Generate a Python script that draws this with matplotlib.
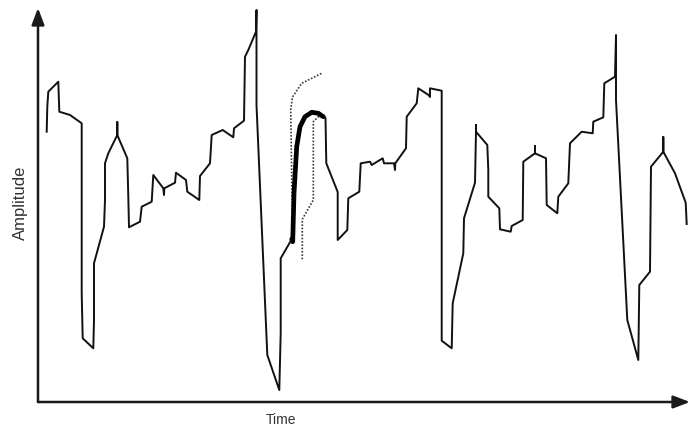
import matplotlib
matplotlib.use("Agg")
import matplotlib.pyplot as plt

# Observed signal up to the start of the forecast
obs1_time = [8.7, 9.3, 10.3, 20.3, 21.3, 32.0, 43.7, 43.7, 43.7, 44.7, 55.3, 56.0, 56.0,
             66.0, 67.0, 67.0, 70.3, 79.3, 79.3, 79.3, 89.3, 90.3, 91.0, 102.0, 103.7,
             113.7, 115.3, 125.3, 126.0, 126.3, 137.0, 138.0, 148.0, 149.3, 161.3, 162.0,
             172.0, 173.7, 184.7, 195.3, 196.0, 206.0, 207.0, 210.3, 218.0, 218.5, 218.5,
             229.3, 241.3, 242.7, 242.7, 253.7]
obs1_amp = [270.3, 295.3, 310.3, 320.3, 290.3, 287.0, 278.7, 202.0, 109.0, 63.7, 53.7, 82.0,
            138.7, 175.3, 202.0, 238.7, 248.7, 267.0, 280.0, 267.0, 243.7, 205.3, 174.7,
            180.3, 195.3, 200.3, 227.0, 213.7, 207.0, 213.7, 219.3, 229.3, 222.0, 210.3,
            202.0, 226.0, 238.7, 267.0, 272.0, 264.7, 273.7, 281.3, 345.3, 352.0, 370.3,
            392.0, 297.0, 47.0, 12.0, 69.0, 143.7, 162.7]

# Forecast and its bounds
fc_time = [253.7, 254.7, 256.0, 258.7, 262.0, 267.0, 273.7, 280.3, 285.3]
fc_amp = [162.7, 160.3, 208.7, 255.3, 275.3, 285.3, 289.7, 288.7, 285.3]

upper_time = [254.7, 253.7, 252.7, 254.5, 263.7, 283.7]
upper_amp = [162.0, 227.0, 292.0, 305.0, 318.7, 328.7]

lower_time = [264.3, 264.3, 275.3, 275.3, 280.3, 285.3]
lower_amp = [142.7, 182.7, 202.0, 280.3, 285.3, 285.3]

# Observed signal after the forecast
obs2_time = [285.3, 287.5, 288.3, 299.7, 299.7, 309.3, 310.3, 321.3, 322.7, 332.0, 333.7,
             344.7, 346.0, 356.0, 357.0, 357.3, 368.0, 368.7, 378.7, 380.3, 390.5, 392.0,
             392.0, 403.7, 403.7, 403.7, 403.7, 413.7, 414.7, 425.3, 426.0, 437.0, 438.0,
             438.0, 438.0, 449.3, 450.3, 450.3, 461.3, 462.0, 472.7, 473.7, 484.7, 485.3,
             497.0, 497.0, 497.0, 508.0, 508.7, 519.3, 520.3, 530.3, 532.0, 543.7, 554.7,
             555.3, 565.3, 566.3, 577.0, 578.0, 578.0, 589.3, 600.3, 601.3, 612.0, 613.0,
             625.3, 625.3, 625.3, 637.0, 647.7, 648.7]
obs2_amp = [285.3, 284.0, 238.7, 210.0, 162.0, 172.0, 203.7, 210.3, 238.7, 240.3, 237.0,
            243.7, 238.7, 238.7, 232.0, 238.7, 253.7, 285.3, 298.7, 313.7, 307.0, 305.0,
            313.7, 311.3, 242.0, 125.3, 61.3, 53.7, 98.7, 148.7, 183.7, 219.3, 270.3,
            277.0, 270.3, 257.0, 232.0, 205.3, 193.7, 172.7, 170.3, 176.0, 182.0, 240.3,
            248.7, 256.0, 248.7, 243.7, 197.0, 188.7, 205.3, 218.7, 258.7, 270.3, 268.7,
            280.3, 284.7, 318.7, 325.3, 367.0, 302.0, 82.0, 42.0, 117.0, 130.3, 235.3,
            250.3, 265.0, 250.3, 228.7, 199.3, 178.0]

fig = plt.figure(figsize=(6.91, 4.30), dpi=100)
ax = fig.add_axes([38 / 691, 28 / 430, 652 / 691, 394 / 430])
ax.set_xlim(0, 652)
ax.set_ylim(0, 394)

line_color = "#111111"
ax.plot(obs1_time, obs1_amp, color=line_color, lw=1.4, solid_joinstyle="round")
ax.plot(obs2_time, obs2_amp, color=line_color, lw=1.4, solid_joinstyle="round")
ax.plot(upper_time, upper_amp, color="#3a3a3a", lw=1.2, linestyle=(0, (1, 1)))
ax.plot(lower_time, lower_amp, color="#3a3a3a", lw=1.2, linestyle=(0, (1, 1)))
ax.plot(fc_time, fc_amp, color="#000000", lw=3.4, solid_capstyle="round")

# Bare axes drawn as arrows
for sp in ax.spines.values():
    sp.set_visible(False)
ax.set_xticks([])
ax.set_yticks([])
arrow = dict(arrowstyle="-|>,head_length=1.0,head_width=0.38", color="#1a1a1a",
             lw=1.8, mutation_scale=10, shrinkA=0, shrinkB=0)
ax.annotate("", xy=(1.0, 0.0), xytext=(0.0, 0.0), xycoords="axes fraction",
            textcoords="axes fraction", arrowprops=arrow, annotation_clip=False)
ax.annotate("", xy=(0.0, 1.0), xytext=(0.0, 0.0), xycoords="axes fraction",
            textcoords="axes fraction", arrowprops=arrow, annotation_clip=False)

font = ["Liberation Sans", "DejaVu Sans"]
ax.set_xlabel("Time", family=font, fontsize=10, color="#333333", va="center")
ax.xaxis.set_label_coords((281 - 38) / 652, (402 - 420) / 394)
ax.set_ylabel("Amplitude", family=font, fontsize=12, color="#333333", va="center")
ax.yaxis.set_label_coords((20 - 38) / 652, (402 - 203) / 394)

fig.savefig("out.png", dpi=100)
